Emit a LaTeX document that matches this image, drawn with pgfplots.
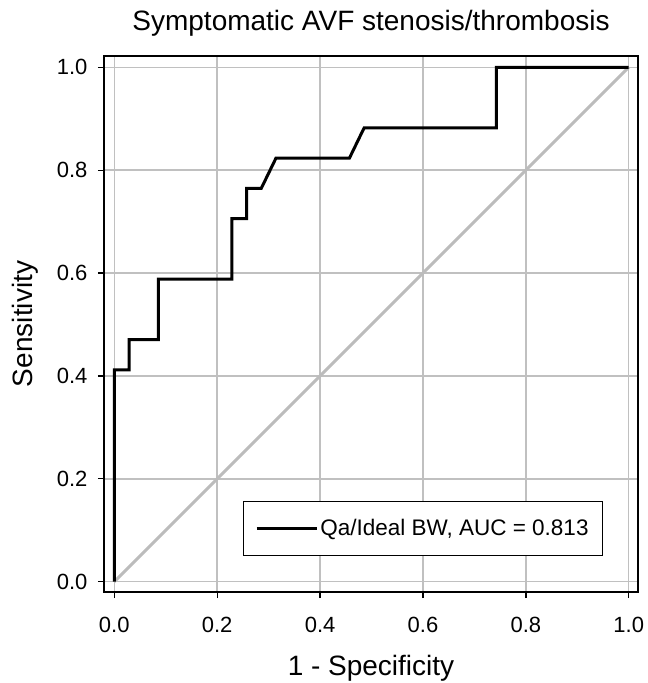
\documentclass[border=0pt]{standalone}
\usepackage{fontspec}
\setmainfont{Liberation Sans}
\usepackage{pgfplots}
\pgfplotsset{compat=1.18}
\definecolor{gridgray}{RGB}{192,192,192}
\definecolor{diaggray}{RGB}{188,188,188}

\begin{document}
\begin{tikzpicture}
\useasboundingbox (-104pt,-91pt) rectangle (544pt,592pt);
\begin{axis}[
    at={(0pt,0pt)}, anchor=south west,
    width=534pt, height=536pt, scale only axis,
    xmin=-0.02, xmax=1.018, ymin=-0.02, ymax=1.022,
    xtick={0,0.2,0.4,0.6,0.8,1.0},
    ytick={0,0.2,0.4,0.6,0.8,1.0},
    /pgf/number format/.cd, fixed, fixed zerofill, precision=1, assume math mode=true,
    /pgfplots/.cd,
    tick label style={font=\fontsize{22}{26}\selectfont},
    yticklabel style={xshift=-7pt},
    xticklabel style={yshift=-16pt},
    tick align=outside, tick pos=left,
    major tick length=6pt,
    tick style={black, line width=1.3pt},
    grid=major,
    grid style={gridgray, line width=1.5pt},
    axis line style={line width=1.5pt},
    title={Symptomatic AVF stenosis/thrombosis},
    title style={font=\fontsize{28}{32}\selectfont, at={(0.5,1)}, anchor=base, yshift=19pt},
    xlabel={1 - Specificity},
    xlabel style={font=\fontsize{28}{32}\selectfont, at={(0.5,0)}, anchor=base, yshift=-83pt},
    ylabel={Sensitivity},
    ylabel style={font=\fontsize{28}{32}\selectfont, at={(0,0.5)}, anchor=base, yshift=71pt},
    legend style={at={(0.935,0.067)}, anchor=south east, draw=black, line width=1.5pt,
        font=\fontsize{22.5}{26}\selectfont, inner xsep=12pt, inner ysep=16pt},
    legend image code/.code={\path (0pt,0pt) -- (60pt,0pt); \draw[#1] (0pt,0pt) -- (53pt,0pt);},
    legend cell align=left,
]
\addplot[diaggray, line width=3pt, forget plot] coordinates {(0,0) (1,1)};
\addplot[black, line width=3pt, line join=miter] coordinates {
    (0,0) (0,0.4118) (0.0286,0.4118) (0.0286,0.4706) (0.0857,0.4706)
    (0.0857,0.5882) (0.2286,0.5882) (0.2286,0.7059) (0.2571,0.7059)
    (0.2571,0.7647) (0.2857,0.7647) (0.3143,0.8235) (0.4571,0.8235)
    (0.4857,0.8824) (0.7429,0.8824) (0.7429,1.0) (1.0,1.0)
};
\addlegendentry{Qa/Ideal BW, AUC = 0.813}
\end{axis}
\end{tikzpicture}
\end{document}
